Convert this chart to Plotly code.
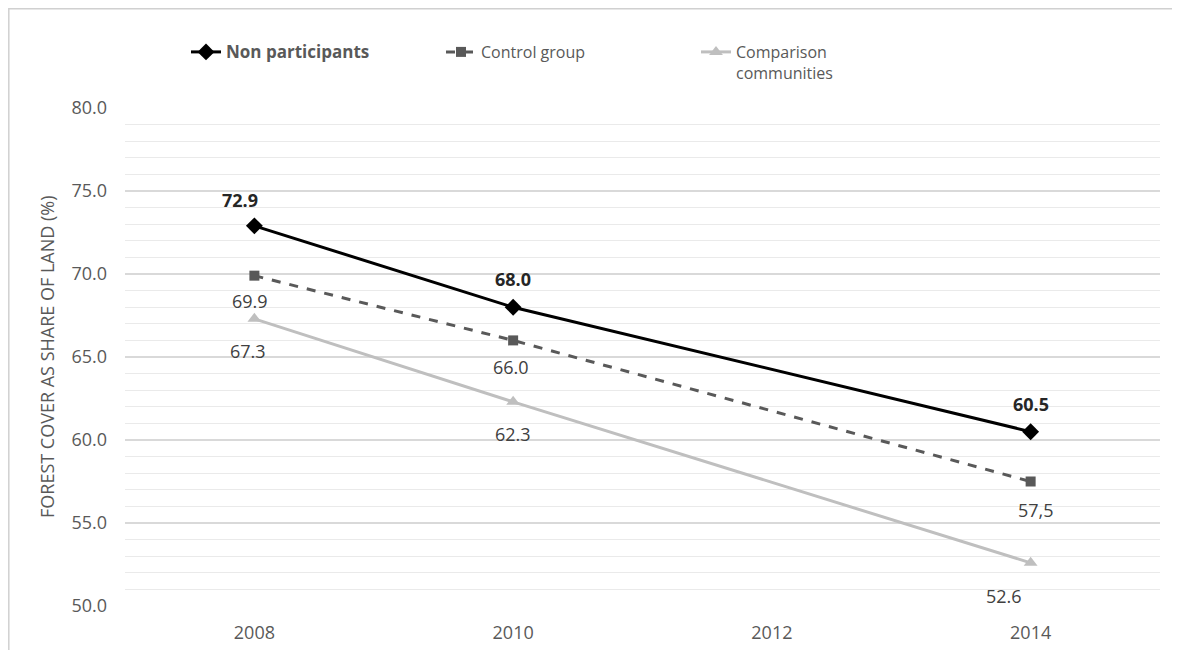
import plotly.graph_objects as go

years = [2008, 2010, 2014]
non_participants = [72.9, 68.0, 60.5]
control_group = [69.9, 66.0, 57.5]
comparison = [67.3, 62.3, 52.6]
non_labels = ["72.9", "68.0", "60.5"]
control_labels = ["69.9", "66.0", "57,5"]
comparison_labels = ["67.3", "62.3", "52.6"]
x_ticks = [2008, 2010, 2012, 2014]
y_ticks = [50, 55, 60, 65, 70, 75, 80]

FONT = "Open Sans"
fig = go.Figure()

fig.add_trace(go.Scatter(
    x=years, y=non_participants,
    name="<b><span style='font-size:17px'>Non participants</span></b>",
    mode="lines+markers",
    line=dict(color="#000000", width=3), marker=dict(symbol="diamond", size=13, color="#000000")))

fig.add_trace(go.Scatter(
    x=years, y=control_group, name="Control group",
    mode="lines+markers",
    line=dict(color="#595959", width=3, dash="dash"), marker=dict(symbol="square", size=10, color="#595959")))

fig.add_trace(go.Scatter(
    x=years, y=comparison, name="Comparison<br>communities",
    mode="lines+markers",
    line=dict(color="#BFBFBF", width=3), marker=dict(symbol="triangle-up", size=12, color="#BFBFBF")))

# data labels (offsets in px relative to each point)
annotations = []
non_off = [(-14, 26), (0, 28), (0, 28)]
ctl_off = [(-4, -25), (-2, -27), (5, -28)]
cmp_off = [(-6, -32), (0, -32), (-27, -33)]
for xs, ys, labs, offs, bold, col in [
    (years, non_participants, non_labels, non_off, True, "#262626"),
    (years, control_group, control_labels, ctl_off, False, "#404040"),
    (years, comparison, comparison_labels, cmp_off, False, "#404040"),
]:
    for xv, yv, t, (dx, dy) in zip(xs, ys, labs, offs):
        annotations.append(dict(
            x=xv, y=yv, xref="x", yref="y", text=f"<b>{t}</b>" if bold else t,
            showarrow=False, xshift=dx, yshift=dy, xanchor="center", yanchor="middle",
            font=dict(size=18, color=col, family=FONT)))

# page has an 8px body margin; figure coordinates are page - 8
L, T = 117, 100
PW, PH = 1035, 498
W, H = 1164, 642
R = W - L - PW
B = H - T - PH

annotations.append(dict(
    text="FOREST COVER AS SHARE OF LAND (%)", xref="paper", yref="paper",
    x=(47 - 8 - L) / PW, y=0.5, textangle=-90, showarrow=False,
    xanchor="center", yanchor="middle",
    font=dict(size=18, color="#595959", family=FONT)))

fig.update_layout(
    width=W, height=H,
    margin=dict(l=L, r=R, t=T, b=B, autoexpand=False),
    paper_bgcolor="white", plot_bgcolor="white",
    font=dict(family=FONT, color="#595959", size=15),
    showlegend=True,
    legend=dict(orientation="h", x=(186 - 8 - L) / PW, xanchor="left",
                y=(H - B - 27) / PH, yanchor="top", entrywidth=210,
                valign="top",
                font=dict(size=16, color="#595959", family=FONT),
                tracegroupgap=0),
    xaxis=dict(range=[2007, 2015], tickvals=x_ticks, ticktext=[str(v) for v in x_ticks],
               showgrid=False, zeroline=False, showline=False, ticks="",
               automargin=False, ticklabelstandoff=14,
               tickfont=dict(size=18, color="#595959")),
    yaxis=dict(range=[50, 80], tickvals=y_ticks, tickformat=".1f",
               showgrid=True, gridcolor="#D9D9D9", gridwidth=1.5, zeroline=False,
               showline=False, ticks="", automargin=False, ticklabelstandoff=17,
               minor=dict(dtick=1, showgrid=True, gridcolor="#EAEAEA", gridwidth=1),
               tickfont=dict(size=18, color="#595959")),
    annotations=annotations,
    shapes=[dict(type="rect", xref="paper", yref="paper",
                 x0=(0.8 - L) / PW, x1=(W + 20 - L) / PW,
                 y0=(H - B - 900) / PH, y1=(H - B - 0.8) / PH,
                 line=dict(color="#D0D0D0", width=1.5), fillcolor="rgba(0,0,0,0)", layer="below")],
)

fig.write_html("out.html")
